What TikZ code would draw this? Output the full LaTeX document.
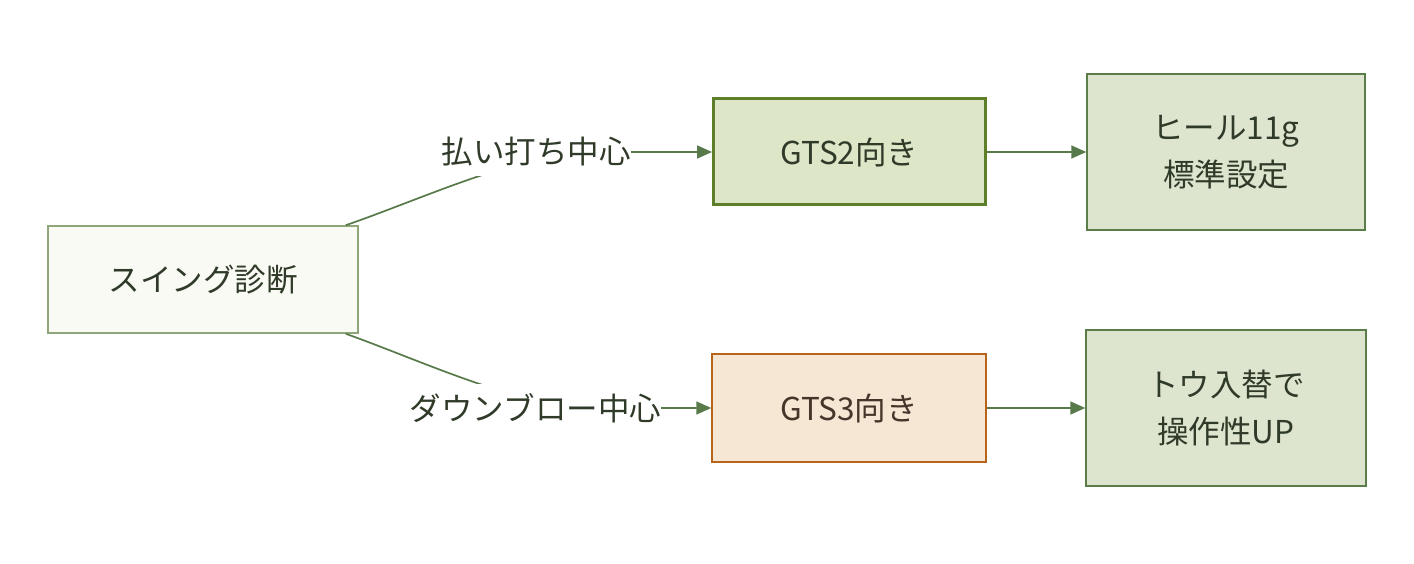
\documentclass[tikz,border=0pt]{standalone}
\usepackage{fontspec}
\setmainfont{Noto Sans CJK JP}
\usetikzlibrary{arrows.meta,calc}
\definecolor{edgecol}{HTML}{587A4A}
\definecolor{txt}{HTML}{2F3A29}
\definecolor{afill}{HTML}{F9FAF4}
\definecolor{adraw}{HTML}{8FA67A}
\definecolor{bfill}{HTML}{DDE6C7}
\definecolor{bdraw}{HTML}{5E7F2A}
\definecolor{cfill}{HTML}{F6E6D4}
\definecolor{cdraw}{HTML}{B8651B}
\definecolor{ctxt}{HTML}{45352A}
\definecolor{dfill}{HTML}{DDE5CF}
\definecolor{ddraw}{HTML}{5A7D4A}
\tikzset{
  box/.style={draw, rectangle, inner sep=0pt, align=center, text=txt,
    font=\fontsize{31.5}{47}\selectfont},
  conn/.style={draw=edgecol, line width=1.7pt, -{Triangle[length=15pt,width=13pt]}},
  lbl/.style={fill=white, inner sep=0pt, minimum height=48pt, text=txt,
    font=\fontsize{31.5}{36}\selectfont}
}
\begin{document}
\begin{tikzpicture}[x=1pt,y=-1pt]
\useasboundingbox (0,0) rectangle (1414,564);
\node[box, fill=afill, draw=adraw, line width=1.5pt, minimum width=310pt, minimum height=107pt] (A) at (203,279.5) {スイング診断};
\node[box, fill=bfill, draw=bdraw, line width=3pt, minimum width=272pt, minimum height=106pt] (B) at (849.5,152) {GTS2向き};
\node[box, fill=cfill, draw=cdraw, line width=1.5pt, text=ctxt, minimum width=274pt, minimum height=108pt] (C) at (849,408) {GTS3向き};
\node[box, fill=dfill, draw=ddraw, line width=1.5pt, minimum width=278pt, minimum height=156pt] (D) at (1226,152) {ヒール11g\\標準設定};
\node[box, fill=dfill, draw=ddraw, line width=1.5pt, minimum width=280pt, minimum height=156pt] (E) at (1226,408) {トウ入替で\\操作性UP};
% curved connectors
\coordinate (a1) at ($(A.north east)+(-13,0)$);
\coordinate (a2) at ($(A.south east)+(-13,0)$);
\draw[conn] (a1) .. controls (430,196) and (520,152) .. (600,152) -- (B.west);
\draw[conn] (a2) .. controls (430,364) and (520,408) .. (600,408) -- (C.west);
\node[lbl] (L1) at (536,152) {払い打ち中心};
\node[lbl] (L2) at (535.5,408) {ダウンブロー中心};
\draw[conn] (B.east) -- (D.west);
\draw[conn] (C.east) -- (E.west);
\end{tikzpicture}
\end{document}
